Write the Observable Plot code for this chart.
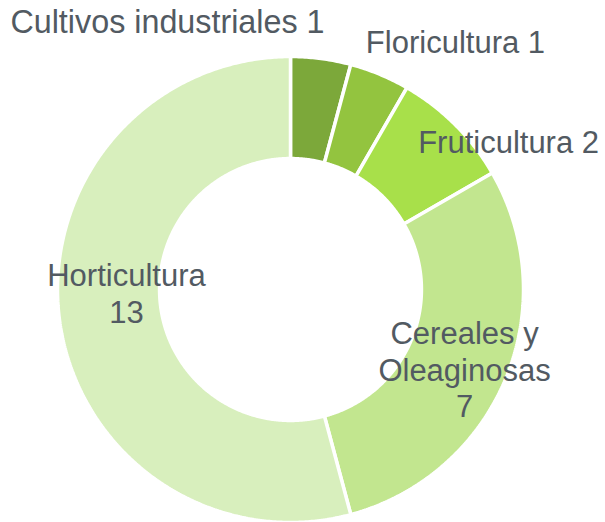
<!DOCTYPE html>
<html>
<head>
<meta charset="utf-8">
<script src="https://cdn.jsdelivr.net/npm/d3@7"></script>
<script src="https://cdn.jsdelivr.net/npm/@observablehq/plot@0.6"></script>
<style>
  html, body { margin: 0; padding: 0; background: #ffffff; }
  #chart svg { display: block; }
</style>
</head>
<body>
<div id="chart"></div>
<script>
// Data
const categories = ["Cultivos industriales", "Floricultura", "Fruticultura", "Cereales y Oleaginosas", "Horticultura"];
const values = [1, 1, 2, 7, 13];
const labels = ["Cultivos industriales 1", "Floricultura 1", "Fruticultura 2", "Cereales y\nOleaginosas\n7", "Horticultura\n13"];
const colors = ["#7ca83a", "#93c43f", "#a8e04a", "#c2e68f", "#d8efbd"];

// Label placement (unit-circle coordinates, last baseline) and size
const labelX = [-0.528, 0.708, 0.936, 0.747, -0.704];
const labelY = [1.103, 1.013, 0.584, -0.549, -0.142];
const labelSize = [32.3, 31, 31, 31, 31];

const innerRatio = 0.562;

// Build slice polygons from the values
const total = d3.sum(values);
const slices = [];
let acc = 0;
categories.forEach((name, i) => {
  const a0 = acc / total * 2 * Math.PI;
  acc += values[i];
  const a1 = acc / total * 2 * Math.PI;
  const n = Math.max(8, Math.ceil((a1 - a0) / (Math.PI / 360)));
  const pts = [];
  for (let k = 0; k <= n; k++) {
    const a = a0 + (a1 - a0) * k / n;
    pts.push({name, x: Math.sin(a), y: Math.cos(a)});
  }
  for (let k = n; k >= 0; k--) {
    const a = a0 + (a1 - a0) * k / n;
    pts.push({name, x: innerRatio * Math.sin(a), y: innerRatio * Math.cos(a)});
  }
  pts.push({...pts[0]});
  slices.push(...pts);
});

const labelData = categories.map((name, i) => ({name, text: labels[i], x: labelX[i], y: labelY[i], size: labelSize[i]}));

const textOpts = {
  x: "x", y: "y", text: "text",
  textAnchor: "middle", lineAnchor: "bottom", lineHeight: 1.18,
  fill: "#525a62",
  fontFamily: "Liberation Sans, Arial, sans-serif"
};

const chart = Plot.plot({
  width: 605,
  height: 522,
  marginLeft: 57,
  marginRight: 82,
  marginTop: 56,
  marginBottom: 0,
  x: {domain: [-1, 1], axis: null},
  y: {domain: [-1, 1], axis: null},
  color: {domain: categories, range: colors},
  style: {background: "#ffffff", overflow: "visible"},
  marks: [
    Plot.line(slices, {x: "x", y: "y", z: "name", fill: "name", stroke: "#ffffff", strokeWidth: 3.5, strokeLinejoin: "miter", curve: "linear"}),
    Plot.text(labelData.filter(d => d.size !== 31), {...textOpts, fontSize: labelSize[0]}),
    Plot.text(labelData.filter(d => d.size === 31), {...textOpts, fontSize: 31})
  ]
});
document.getElementById("chart").appendChild(chart);
</script>
</body>
</html>
